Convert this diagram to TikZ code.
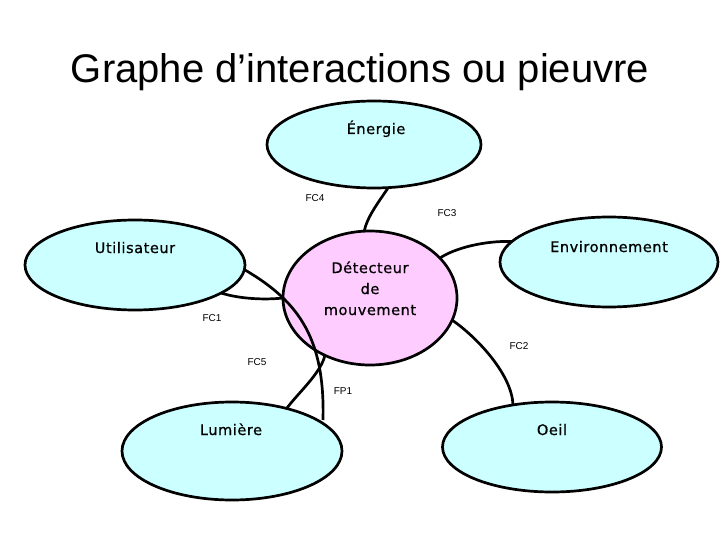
\documentclass[tikz,border=0pt]{standalone}
\usepackage{fontspec}
\setmainfont{Liberation Sans}
\newfontfamily\comicish[LetterSpace=4,FakeBold=0.8]{DejaVu Sans}
\usetikzlibrary{shapes.geometric,calc}
\definecolor{cyanfill}{HTML}{CCFFFF}
\definecolor{pinkfill}{HTML}{FFCCFF}
\begin{document}
\begin{tikzpicture}[x=1pt,y=-1pt,
  ell/.style={ellipse, draw=black, line width=2.7pt, inner sep=0pt},
  ext/.style={ell, fill=cyanfill},
  prod/.style={ell, fill=pinkfill},
  etext/.style={anchor=base, inner sep=0pt, font=\comicish\fontsize{14.5}{16}\selectfont},
  fclab/.style={inner sep=0pt, font=\fontsize{10}{12}\selectfont},
  conn/.style={line width=2.7pt, draw=black}]
\useasboundingbox (0,0) rectangle (720,540);

\node[font=\fontsize{40}{48}\selectfont, anchor=base, inner sep=0pt] (title) at (360,83) {Graphe d’interactions ou pieuvre};

% ellipses
\node[ext, minimum width=214pt, minimum height=87pt] (ener) at (374,144.5) {};
\node[ext, minimum width=220pt, minimum height=90pt] (util) at (135,265) {};
\node[ext, minimum width=218pt, minimum height=90pt] (env) at (609,262) {};
\node[ext, minimum width=220pt, minimum height=98pt] (lum) at (232,451) {};
\node[ext, minimum width=219pt, minimum height=90pt] (oeil) at (552,447) {};
\node[prod, minimum width=174pt, minimum height=134pt] (det) at (370,298) {};

% connectors
\draw[conn] ($(ener.center)+(14,43.5)$) .. controls +(-10,15) and +(3,-15) .. ($(det.center)+(-6,-66)$);
\draw[conn] ($(env.center)+(-97,-20.5)$) .. controls +(-27,-1) and +(15,-10) .. ($(det.center)+(70,-40)$);
\draw[conn] ($(util.center)+(86,28)$) .. controls +(19,6) and +(-18,2) .. ($(det.center)+(-87,0)$);
\draw[conn] ($(util.center)+(110,5)$) .. controls +(55,32) and +(2,-80) .. ($(lum.center)+(91,-31)$);
\draw[conn] ($(lum.center)+(55,-43)$) .. controls +(12,-16) and +(-4,18) .. ($(det.center)+(-45,57)$);
\draw[conn] ($(det.center)+(82,22)$) .. controls +(26,18) and +(-1,-30) .. ($(oeil.center)+(-39,-42)$);

% ellipse texts
\node[etext] (enerT) at (376,134) {Énergie};
\node[etext] (utilT) at (135,253) {Utilisateur};
\node[etext] (envT) at (609,252) {Environnement};
\node[etext] (detT1) at (370,273) {Détecteur};
\node[etext] (detT2) at (370,294) {de};
\node[etext] (detT3) at (370,315) {mouvement};
\node[etext] (lumT) at (231,435) {Lumière};
\node[etext] (oeilT) at (552,435) {Oeil};

% labels
\node[fclab] (fc4) at (315,198) {FC4};
\node[fclab] (fc3) at (447,213) {FC3};
\node[fclab] (fc1) at (212,318) {FC1};
\node[fclab] (fc2) at (519,346) {FC2};
\node[fclab] (fc5) at (257,362) {FC5};
\node[fclab] (fp1) at (343,391) {FP1};
\end{tikzpicture}
\end{document}
